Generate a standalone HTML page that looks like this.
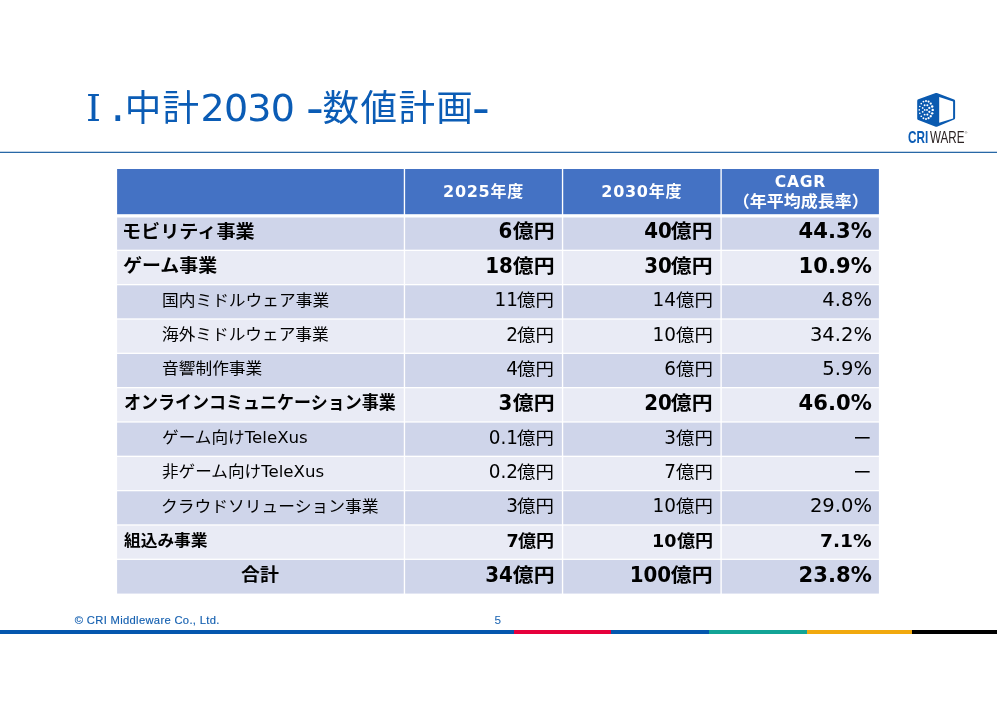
<!DOCTYPE html>
<html lang="ja"><head><meta charset="utf-8"><title>中計2030 数値計画</title>
<style>
html,body{margin:0;padding:0;background:#fff;}
body{width:997px;height:703px;position:relative;overflow:hidden;font-family:"DejaVu Sans","Noto Sans CJK JP",sans-serif;color:#000;}
.abs{position:absolute;}
.title{left:86px;top:80px;font-size:38px;line-height:56px;color:#0b5cb5;white-space:nowrap;}
.rn{font-family:"DejaVu Serif",serif;display:inline-block;width:24px;}
.dot{font-size:46px;line-height:0;margin-left:0.6px;margin-right:-0.6px;}
.dg{letter-spacing:-0.8px;}
.kj{font-size:36.6px;letter-spacing:1.4px;}
.hy.hy2{margin-left:-2px;}
.hy{display:inline-block;transform:scale(1.3,1.2);transform-origin:0 50%;margin-right:3px;margin-left:-0.5px;}
.hline{left:0;top:151px;width:997px;height:1px;background:#c3d5e7;}
.hline2{left:0;top:152px;width:997px;height:1px;background:#2868a6;}
.cell{position:absolute;box-sizing:border-box;white-space:nowrap;overflow:hidden;}
.hd{background:#4472c4;color:#fff;font-weight:bold;font-size:16px;text-align:center;letter-spacing:0.7px;}
.h1{position:relative;top:-1.3px;font-size:15.6px;}
.h2{display:inline-block;transform:translateY(1.2px) scaleX(1.05);letter-spacing:0;font-size:16.2px;}
.ds{display:inline-block;transform-origin:100% 50%;transform:translate(0.4px,1.7px) scale(1.12,1.25);font-size:18px;}
.cri,.ware,.rmark{font-family:"Liberation Sans",sans-serif;font-size:16.4px;line-height:16px;transform-origin:0 50%;white-space:nowrap;}
.cri{left:908.4px;top:129.4px;color:#0b5cb5;font-weight:bold;transform:scaleX(0.715);}
.ware{left:930.2px;top:129.4px;color:#2b2222;transform:scaleX(0.71);}
.rmark{left:964.7px;top:128.8px;font-size:3.5px;line-height:8px;color:#444;}
.o,.e{background:transparent;}
.hd{background:transparent !important;}
.w{position:relative;display:inline-block;}
.t{display:inline-block;transform-origin:0 50%;}
.d{display:inline-block;transform-origin:100% 50%;}
.lab{text-align:left;}
.num{text-align:right;padding-right:7.3px;}
.k{display:inline-block;transform-origin:100% 50%;}
.lab.b{font-weight:bold;font-size:17.7px;}
.lab.s{font-weight:bold;font-size:16px;}
.lab.r{font-size:16px;}
.num.b{font-weight:bold;font-size:18.8px;}
.num.r{font-size:17px;}
.num.b .d{font-size:20.7px;transform:scaleX(0.96);}
.num.r .d{font-size:18.9px;transform:scaleX(0.975);}
.num.b .k{transform:scaleX(1.11);margin-left:4.1px;}
.num.r .k{transform:scaleX(1.085);margin-left:2.9px;}
.num.s{font-weight:bold;font-size:16.6px;}
.num.s .d{font-size:18.3px;transform:scaleX(0.96);}
.num.s .k{transform:scaleX(1.09);margin-left:2.9px;}
.num.s .p{transform:scaleX(1.02);}
.num.b .p{transform:scaleX(1.02);}
.num.r .p{transform:scaleX(1.035);}
.foot{left:74.8px;top:613px;font-family:"Liberation Sans",sans-serif;font-size:11.2px;color:#1560b0;line-height:14px;white-space:nowrap;letter-spacing:0.33px;-webkit-text-stroke:0.15px #1560b0;}
.pg{left:494.5px;top:613.2px;font-family:"Liberation Sans",sans-serif;font-size:11.8px;color:#1560b0;line-height:14px;}
</style></head><body>
<div class="abs title"><span class="rn">Ⅰ</span><span class="dot">.</span><span class="kj">中計</span><span class="dg">2030</span> <span class="hy">-</span><span class="kj">数値計画</span><span class="hy hy2">-</span></div>
<div class="abs hline"></div><div class="abs hline2"></div>

<svg class="abs" style="left:0;top:0" width="997" height="703" viewBox="0 0 997 703"><rect x="117.10" y="169" width="286.67" height="45.20" fill="#4472c4"/><rect x="405.13" y="169" width="156.74" height="45.20" fill="#4472c4"/><rect x="563.23" y="169" width="157.19" height="45.20" fill="#4472c4"/><rect x="721.78" y="169" width="157.12" height="45.20" fill="#4472c4"/><rect x="117.10" y="217.50" width="286.67" height="32.18" fill="#cfd5ea"/><rect x="405.13" y="217.50" width="156.74" height="32.18" fill="#cfd5ea"/><rect x="563.23" y="217.50" width="157.19" height="32.18" fill="#cfd5ea"/><rect x="721.78" y="217.50" width="157.12" height="32.18" fill="#cfd5ea"/><rect x="117.10" y="250.98" width="286.67" height="33.03" fill="#e9ebf5"/><rect x="405.13" y="250.98" width="156.74" height="33.03" fill="#e9ebf5"/><rect x="563.23" y="250.98" width="157.19" height="33.03" fill="#e9ebf5"/><rect x="721.78" y="250.98" width="157.12" height="33.03" fill="#e9ebf5"/><rect x="117.10" y="285.31" width="286.67" height="33.03" fill="#cfd5ea"/><rect x="405.13" y="285.31" width="156.74" height="33.03" fill="#cfd5ea"/><rect x="563.23" y="285.31" width="157.19" height="33.03" fill="#cfd5ea"/><rect x="721.78" y="285.31" width="157.12" height="33.03" fill="#cfd5ea"/><rect x="117.10" y="319.64" width="286.67" height="33.03" fill="#e9ebf5"/><rect x="405.13" y="319.64" width="156.74" height="33.03" fill="#e9ebf5"/><rect x="563.23" y="319.64" width="157.19" height="33.03" fill="#e9ebf5"/><rect x="721.78" y="319.64" width="157.12" height="33.03" fill="#e9ebf5"/><rect x="117.10" y="353.97" width="286.67" height="33.03" fill="#cfd5ea"/><rect x="405.13" y="353.97" width="156.74" height="33.03" fill="#cfd5ea"/><rect x="563.23" y="353.97" width="157.19" height="33.03" fill="#cfd5ea"/><rect x="721.78" y="353.97" width="157.12" height="33.03" fill="#cfd5ea"/><rect x="117.10" y="388.30" width="286.67" height="33.03" fill="#e9ebf5"/><rect x="405.13" y="388.30" width="156.74" height="33.03" fill="#e9ebf5"/><rect x="563.23" y="388.30" width="157.19" height="33.03" fill="#e9ebf5"/><rect x="721.78" y="388.30" width="157.12" height="33.03" fill="#e9ebf5"/><rect x="117.10" y="422.63" width="286.67" height="33.03" fill="#cfd5ea"/><rect x="405.13" y="422.63" width="156.74" height="33.03" fill="#cfd5ea"/><rect x="563.23" y="422.63" width="157.19" height="33.03" fill="#cfd5ea"/><rect x="721.78" y="422.63" width="157.12" height="33.03" fill="#cfd5ea"/><rect x="117.10" y="456.96" width="286.67" height="33.03" fill="#e9ebf5"/><rect x="405.13" y="456.96" width="156.74" height="33.03" fill="#e9ebf5"/><rect x="563.23" y="456.96" width="157.19" height="33.03" fill="#e9ebf5"/><rect x="721.78" y="456.96" width="157.12" height="33.03" fill="#e9ebf5"/><rect x="117.10" y="491.29" width="286.67" height="33.03" fill="#cfd5ea"/><rect x="405.13" y="491.29" width="156.74" height="33.03" fill="#cfd5ea"/><rect x="563.23" y="491.29" width="157.19" height="33.03" fill="#cfd5ea"/><rect x="721.78" y="491.29" width="157.12" height="33.03" fill="#cfd5ea"/><rect x="117.10" y="525.62" width="286.67" height="33.03" fill="#e9ebf5"/><rect x="405.13" y="525.62" width="156.74" height="33.03" fill="#e9ebf5"/><rect x="563.23" y="525.62" width="157.19" height="33.03" fill="#e9ebf5"/><rect x="721.78" y="525.62" width="157.12" height="33.03" fill="#e9ebf5"/><rect x="117.10" y="559.95" width="286.67" height="33.63" fill="#cfd5ea"/><rect x="405.13" y="559.95" width="156.74" height="33.63" fill="#cfd5ea"/><rect x="563.23" y="559.95" width="157.19" height="33.63" fill="#cfd5ea"/><rect x="721.78" y="559.95" width="157.12" height="33.63" fill="#cfd5ea"/></svg>
<div class="cell hd" style="left:117px;top:169px;width:286.8px;height:45.5px;line-height:45.5px;padding-top:0px"></div>
<div class="cell hd" style="left:405.2px;top:169px;width:156.59999999999997px;height:45.5px;line-height:45.5px;padding-top:0px">2025年度</div>
<div class="cell hd" style="left:563.2px;top:169px;width:157.0999999999999px;height:45.5px;line-height:45.5px;padding-top:0px">2030年度</div>
<div class="cell hd" style="left:721.7px;top:169px;width:157.29999999999995px;height:45.5px;line-height:17px;padding-top:5px"><span class="h1">CAGR</span><br><span class="h2">（年平均成長率）</span></div>
<div class="cell o lab b" style="left:117px;top:217.50px;width:286.8px;height:32.23px;line-height:34.33px;padding-left:5.00px;"><span class="w" style="top:-3.00px"><span class="t" style="transform:scaleX(1.0808)">モビリティ事業</span></span></div>
<div class="cell o num b" style="left:405.2px;top:217.50px;width:156.59999999999997px;height:32.23px;line-height:34.33px;"><span class="w" style="top:-3.20px"><span class="d">6</span><span class="k">億円</span></span></div>
<div class="cell o num b" style="left:563.2px;top:217.50px;width:157.0999999999999px;height:32.23px;line-height:34.33px;"><span class="w" style="top:-3.20px"><span class="d">40</span><span class="k">億円</span></span></div>
<div class="cell o num b" style="left:721.7px;top:217.50px;width:157.29999999999995px;height:32.23px;line-height:34.33px;"><span class="w" style="top:-3.20px"><span class="d p">44.3%</span></span></div>
<div class="cell e lab b" style="left:117px;top:250.93px;width:286.8px;height:33.13px;line-height:34.33px;padding-left:6.00px;"><span class="w" style="top:-2.10px"><span class="t" style="transform:scaleX(1.0715)">ゲーム事業</span></span></div>
<div class="cell e num b" style="left:405.2px;top:250.93px;width:156.59999999999997px;height:33.13px;line-height:34.33px;"><span class="w" style="top:-2.30px"><span class="d">18</span><span class="k">億円</span></span></div>
<div class="cell e num b" style="left:563.2px;top:250.93px;width:157.0999999999999px;height:33.13px;line-height:34.33px;"><span class="w" style="top:-2.30px"><span class="d">30</span><span class="k">億円</span></span></div>
<div class="cell e num b" style="left:721.7px;top:250.93px;width:157.29999999999995px;height:33.13px;line-height:34.33px;"><span class="w" style="top:-2.30px"><span class="d p">10.9%</span></span></div>
<div class="cell o lab r" style="left:117px;top:285.26px;width:286.8px;height:33.13px;line-height:34.33px;padding-left:44.65px;"><span class="w" style="top:-1.60px"><span class="t" style="transform:scaleX(1.0449)">国内ミドルウェア事業</span></span></div>
<div class="cell o num r" style="left:405.2px;top:285.26px;width:156.59999999999997px;height:33.13px;line-height:34.33px;"><span class="w" style="top:-2.90px"><span class="d">11</span><span class="k">億円</span></span></div>
<div class="cell o num r" style="left:563.2px;top:285.26px;width:157.0999999999999px;height:33.13px;line-height:34.33px;"><span class="w" style="top:-2.90px"><span class="d">14</span><span class="k">億円</span></span></div>
<div class="cell o num r" style="left:721.7px;top:285.26px;width:157.29999999999995px;height:33.13px;line-height:34.33px;"><span class="w" style="top:-2.90px"><span class="d p">4.8%</span></span></div>
<div class="cell e lab r" style="left:117px;top:319.59px;width:286.8px;height:33.13px;line-height:34.33px;padding-left:45.00px;"><span class="w" style="top:-1.60px"><span class="t" style="transform:scaleX(1.0417)">海外ミドルウェア事業</span></span></div>
<div class="cell e num r" style="left:405.2px;top:319.59px;width:156.59999999999997px;height:33.13px;line-height:34.33px;"><span class="w" style="top:-2.90px"><span class="d">2</span><span class="k">億円</span></span></div>
<div class="cell e num r" style="left:563.2px;top:319.59px;width:157.0999999999999px;height:33.13px;line-height:34.33px;"><span class="w" style="top:-2.90px"><span class="d">10</span><span class="k">億円</span></span></div>
<div class="cell e num r" style="left:721.7px;top:319.59px;width:157.29999999999995px;height:33.13px;line-height:34.33px;"><span class="w" style="top:-2.90px"><span class="d p">34.2%</span></span></div>
<div class="cell o lab r" style="left:117px;top:353.92px;width:286.8px;height:33.13px;line-height:34.33px;padding-left:44.80px;"><span class="w" style="top:-1.60px"><span class="t" style="transform:scaleX(1.0443)">音響制作事業</span></span></div>
<div class="cell o num r" style="left:405.2px;top:353.92px;width:156.59999999999997px;height:33.13px;line-height:34.33px;"><span class="w" style="top:-2.90px"><span class="d">4</span><span class="k">億円</span></span></div>
<div class="cell o num r" style="left:563.2px;top:353.92px;width:157.0999999999999px;height:33.13px;line-height:34.33px;"><span class="w" style="top:-2.90px"><span class="d">6</span><span class="k">億円</span></span></div>
<div class="cell o num r" style="left:721.7px;top:353.92px;width:157.29999999999995px;height:33.13px;line-height:34.33px;"><span class="w" style="top:-2.90px"><span class="d p">5.9%</span></span></div>
<div class="cell e lab b" style="left:117px;top:388.25px;width:286.8px;height:33.13px;line-height:34.33px;padding-left:6.65px;"><span class="w" style="top:-2.10px"><span class="t" style="transform:scaleX(0.9617)">オンラインコミュニケーション事業</span></span></div>
<div class="cell e num b" style="left:405.2px;top:388.25px;width:156.59999999999997px;height:33.13px;line-height:34.33px;"><span class="w" style="top:-2.30px"><span class="d">3</span><span class="k">億円</span></span></div>
<div class="cell e num b" style="left:563.2px;top:388.25px;width:157.0999999999999px;height:33.13px;line-height:34.33px;"><span class="w" style="top:-2.30px"><span class="d">20</span><span class="k">億円</span></span></div>
<div class="cell e num b" style="left:721.7px;top:388.25px;width:157.29999999999995px;height:33.13px;line-height:34.33px;"><span class="w" style="top:-2.30px"><span class="d p">46.0%</span></span></div>
<div class="cell o lab r" style="left:117px;top:422.58px;width:286.8px;height:33.13px;line-height:34.33px;padding-left:44.53px;"><span class="w" style="top:-1.60px"><span class="t" style="transform:scaleX(1.0401)">ゲーム向けTeleXus</span></span></div>
<div class="cell o num r" style="left:405.2px;top:422.58px;width:156.59999999999997px;height:33.13px;line-height:34.33px;"><span class="w" style="top:-2.90px"><span class="d">0.1</span><span class="k">億円</span></span></div>
<div class="cell o num r" style="left:563.2px;top:422.58px;width:157.0999999999999px;height:33.13px;line-height:34.33px;"><span class="w" style="top:-2.90px"><span class="d">3</span><span class="k">億円</span></span></div>
<div class="cell o num r" style="left:721.7px;top:422.58px;width:157.29999999999995px;height:33.13px;line-height:34.33px;"><span class="w" style="top:-2.90px"><span class="ds">－</span></span></div>
<div class="cell e lab r" style="left:117px;top:456.91px;width:286.8px;height:33.13px;line-height:34.33px;padding-left:44.86px;"><span class="w" style="top:-1.60px"><span class="t" style="transform:scaleX(1.0381)">非ゲーム向けTeleXus</span></span></div>
<div class="cell e num r" style="left:405.2px;top:456.91px;width:156.59999999999997px;height:33.13px;line-height:34.33px;"><span class="w" style="top:-2.90px"><span class="d">0.2</span><span class="k">億円</span></span></div>
<div class="cell e num r" style="left:563.2px;top:456.91px;width:157.0999999999999px;height:33.13px;line-height:34.33px;"><span class="w" style="top:-2.90px"><span class="d">7</span><span class="k">億円</span></span></div>
<div class="cell e num r" style="left:721.7px;top:456.91px;width:157.29999999999995px;height:33.13px;line-height:34.33px;"><span class="w" style="top:-2.90px"><span class="ds">－</span></span></div>
<div class="cell o lab r" style="left:117px;top:491.24px;width:286.8px;height:33.13px;line-height:34.33px;padding-left:43.80px;"><span class="w" style="top:-1.60px"><span class="t" style="transform:scaleX(1.0475)">クラウドソリューション事業</span></span></div>
<div class="cell o num r" style="left:405.2px;top:491.24px;width:156.59999999999997px;height:33.13px;line-height:34.33px;"><span class="w" style="top:-2.90px"><span class="d">3</span><span class="k">億円</span></span></div>
<div class="cell o num r" style="left:563.2px;top:491.24px;width:157.0999999999999px;height:33.13px;line-height:34.33px;"><span class="w" style="top:-2.90px"><span class="d">10</span><span class="k">億円</span></span></div>
<div class="cell o num r" style="left:721.7px;top:491.24px;width:157.29999999999995px;height:33.13px;line-height:34.33px;"><span class="w" style="top:-2.90px"><span class="d p">29.0%</span></span></div>
<div class="cell e lab s" style="left:117px;top:525.57px;width:286.8px;height:33.13px;line-height:34.33px;padding-left:7.36px;"><span class="w" style="top:-1.60px"><span class="t" style="transform:scaleX(1.0435)">組込み事業</span></span></div>
<div class="cell e num s" style="left:405.2px;top:525.57px;width:156.59999999999997px;height:33.13px;line-height:34.33px;"><span class="w" style="top:-1.50px"><span class="d">7</span><span class="k">億円</span></span></div>
<div class="cell e num s" style="left:563.2px;top:525.57px;width:157.0999999999999px;height:33.13px;line-height:34.33px;"><span class="w" style="top:-1.50px"><span class="d">10</span><span class="k">億円</span></span></div>
<div class="cell e num s" style="left:721.7px;top:525.57px;width:157.29999999999995px;height:33.13px;line-height:34.33px;"><span class="w" style="top:-1.50px"><span class="d p">7.1%</span></span></div>
<div class="cell o lab b" style="left:117px;top:559.90px;width:286.8px;height:33.73px;line-height:34.33px;padding-left:124.46px;"><span class="w" style="top:-2.10px"><span class="t" style="transform:scaleX(1.0717)">合計</span></span></div>
<div class="cell o num b" style="left:405.2px;top:559.90px;width:156.59999999999997px;height:33.73px;line-height:34.33px;"><span class="w" style="top:-2.30px"><span class="d">34</span><span class="k">億円</span></span></div>
<div class="cell o num b" style="left:563.2px;top:559.90px;width:157.0999999999999px;height:33.73px;line-height:34.33px;"><span class="w" style="top:-2.30px"><span class="d">100</span><span class="k">億円</span></span></div>
<div class="cell o num b" style="left:721.7px;top:559.90px;width:157.29999999999995px;height:33.73px;line-height:34.33px;"><span class="w" style="top:-2.30px"><span class="d p">23.8%</span></span></div>
<div class="abs foot">© CRI Middleware Co., Ltd.</div>
<div class="abs pg">5</div>
<div class="abs" style="left:0px;top:630px;width:514.1px;height:4px;background:#0457ae"></div>
<div class="abs" style="left:513.6px;top:630px;width:98.2px;height:4px;background:#e6003c"></div>
<div class="abs" style="left:611.3px;top:630px;width:98.3px;height:4px;background:#0457ae"></div>
<div class="abs" style="left:709.1px;top:630px;width:98.3px;height:4px;background:#12a496"></div>
<div class="abs" style="left:806.9px;top:630px;width:105.5px;height:4px;background:#f1a90e"></div>
<div class="abs" style="left:911.9px;top:630px;width:85.6px;height:4px;background:#000"></div>
<svg class="abs" style="left:900px;top:85px" width="80" height="50" viewBox="900 85 80 50"><polygon points="918.9,100.9 936.3,94.6 953.4,101.2 953.4,117.9 936.3,125.1 918.9,118.5" fill="#0a5ab0" stroke="#0a5ab0" stroke-width="3.4" stroke-linejoin="round"/><polygon points="939.2,97.0 953.1,101.5 953.1,118.4 939.2,122.7" fill="#fff"/><g fill="#fff"><circle cx="932.70" cy="109.90" r="1.22"/><circle cx="932.19" cy="113.34" r="1.21"/><circle cx="930.74" cy="116.26" r="1.16"/><circle cx="928.56" cy="118.21" r="1.09"/><circle cx="926.00" cy="118.90" r="1.00"/><circle cx="923.44" cy="118.21" r="0.92"/><circle cx="921.26" cy="116.26" r="0.85"/><circle cx="919.81" cy="113.34" r="0.80"/><circle cx="919.30" cy="109.90" r="0.78"/><circle cx="919.81" cy="106.46" r="0.80"/><circle cx="921.26" cy="103.54" r="0.85"/><circle cx="923.44" cy="101.59" r="0.92"/><circle cx="926.00" cy="100.90" r="1.00"/><circle cx="928.56" cy="101.59" r="1.09"/><circle cx="930.74" cy="103.54" r="1.16"/><circle cx="932.19" cy="106.46" r="1.21"/><circle cx="929.33" cy="111.84" r="1.11"/><circle cx="927.39" cy="114.61" r="1.05"/><circle cx="924.63" cy="114.62" r="0.96"/><circle cx="922.68" cy="111.86" r="0.90"/><circle cx="922.67" cy="107.96" r="0.89"/><circle cx="924.61" cy="105.19" r="0.96"/><circle cx="927.37" cy="105.18" r="1.05"/><circle cx="929.32" cy="107.94" r="1.11"/><circle cx="927.00" cy="109.90" r="0.96"/><circle cx="924.70" cy="109.90" r="0.89"/></g></svg><div class="abs cri">CRI</div><div class="abs ware">WARE</div><div class="abs rmark">®</div>
</body></html>
